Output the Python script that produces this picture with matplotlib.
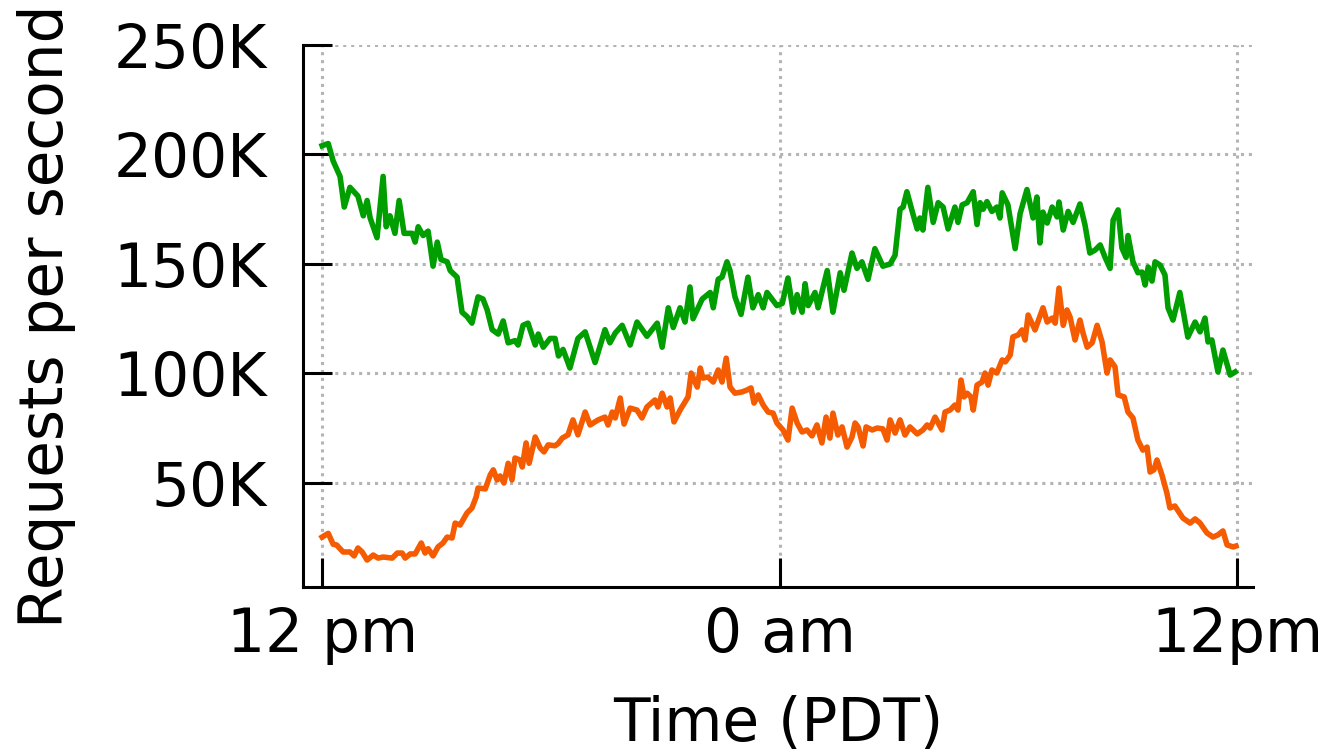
import numpy as np
import matplotlib.pyplot as plt

# Green series (hours since 12 pm, thousands of requests/s)
green_h = [0.00, 0.16, 0.29, 0.47, 0.58, 0.73, 0.94, 1.08, 1.18, 1.26, 1.44, 1.60, 1.68, 1.78, 1.91,
           2.02, 2.15, 2.36, 2.44, 2.52, 2.65, 2.78, 2.91, 3.02, 3.12, 3.28, 3.36, 3.54, 3.67, 3.80,
           3.93, 4.09, 4.22, 4.33, 4.46, 4.62, 4.75, 4.88, 5.06, 5.14, 5.27, 5.40, 5.59, 5.67, 5.80,
           5.98, 6.11, 6.20, 6.32, 6.50, 6.71, 6.90, 7.16, 7.42, 7.55, 7.69, 7.87, 8.08, 8.26, 8.52,
           8.79, 8.92, 9.08, 9.21, 9.39, 9.52, 9.65, 9.73, 9.97, 10.18, 10.26, 10.39, 10.49, 10.62,
           10.70, 10.83, 10.99, 11.17, 11.30, 11.44, 11.57, 11.67, 11.93, 12.07, 12.22, 12.36, 12.46,
           12.59, 12.67, 12.75, 12.93, 13.01, 13.25, 13.40, 13.59, 13.69, 13.90, 14.03, 14.16, 14.32,
           14.50, 14.71, 14.90, 15.03, 15.16, 15.24, 15.34, 15.48, 15.61, 15.68, 15.76, 15.89, 16.03,
           16.16, 16.29, 16.42, 16.60, 16.68, 16.79, 16.92, 17.08, 17.18, 17.26, 17.34, 17.44, 17.57,
           17.70, 17.78, 17.84, 17.99, 18.18, 18.31, 18.49, 18.65, 18.75, 18.83, 18.91, 19.02, 19.15,
           19.28, 19.33, 19.44, 19.57, 19.70, 19.88, 20.01, 20.14, 20.28, 20.41, 20.54, 20.67, 20.75,
           20.88, 20.98, 21.09, 21.14, 21.27, 21.40, 21.51, 21.59, 21.67, 21.77, 21.85, 21.98, 22.11,
           22.19, 22.32, 22.50, 22.71, 22.90, 23.03, 23.16, 23.24, 23.34, 23.50, 23.63, 23.82, 23.95]
green_k = [204, 205, 197, 190, 176, 185, 181, 172, 179, 171, 162, 190, 167, 172, 164,
           179, 164, 164, 160, 167, 163, 165, 149, 160, 152, 151, 147, 144, 128, 126,
           123, 135, 134, 129, 120, 118, 124, 114, 115, 113, 122, 123, 113, 118, 112,
           116, 116, 108, 111, 102.5, 116, 119, 105, 120, 114, 118.5, 122, 113, 123.5, 117,
           123, 112, 130, 121, 130, 123.5, 139.5, 125, 134, 137, 130, 143, 144, 151,
           147, 135, 127, 144, 130, 136, 130, 137, 131, 132, 143.6, 128, 136,
           128, 141, 131, 137, 130, 147, 128, 146, 138, 155, 148, 151, 143,
           157, 149, 150, 154, 175, 176, 183, 174, 166, 171, 165.5, 185, 169,
           178, 176, 166, 176, 169, 177, 178, 183, 168, 178, 175, 178.5, 174,
           176, 171, 182.5, 177, 157, 173, 184, 171, 180.6, 159.6, 173.7, 168.7, 176,
           171.5, 178.3, 165.5, 174, 169, 177.4, 168, 155, 156.4, 158.7, 153, 148, 170,
           174.7, 157.3, 153, 163, 151, 146, 146.3, 140.4, 148.6, 142.2, 151, 149.5, 145,
           130, 124.4, 137, 116.6, 123.5, 119, 125.3, 114.4, 115.3, 100.7, 110.7, 99.3, 100.7]

# Orange series
orange_h = [0.00, 0.16, 0.29, 0.38, 0.55, 0.73, 0.84, 0.94, 1.05, 1.18, 1.34, 1.47, 1.60, 1.84, 1.97,
            2.10, 2.18, 2.31, 2.44, 2.60, 2.70, 2.78, 2.91, 3.04, 3.17, 3.28, 3.41, 3.49, 3.62, 3.80,
            3.93, 4.04, 4.09, 4.28, 4.41, 4.49, 4.59, 4.67, 4.77, 4.88, 4.98, 5.06, 5.19, 5.25, 5.35,
            5.43, 5.59, 5.72, 5.82, 5.93, 6.11, 6.19, 6.30, 6.45, 6.58, 6.71, 6.90, 7.03, 7.24, 7.42,
            7.50, 7.61, 7.69, 7.82, 7.92, 8.08, 8.26, 8.39, 8.52, 8.73, 8.81, 8.92, 9.05, 9.13, 9.23,
            9.39, 9.60, 9.68, 9.84, 9.92, 9.99, 10.12, 10.26, 10.39, 10.49, 10.60, 10.70, 10.83, 11.02,
            11.15, 11.25, 11.33, 11.44, 11.57, 11.70, 11.83, 11.93, 12.09, 12.22, 12.33, 12.46, 12.59,
            12.72, 12.85, 12.98, 13.11, 13.22, 13.32, 13.40, 13.53, 13.64, 13.77, 13.90, 13.98, 14.06,
            14.19, 14.27, 14.43, 14.56, 14.71, 14.82, 14.90, 15.03, 15.16, 15.29, 15.42, 15.61, 15.76,
            15.87, 15.95, 16.08, 16.26, 16.34, 16.47, 16.60, 16.68, 16.76, 16.84, 16.92, 17.02, 17.08,
            17.18, 17.31, 17.39, 17.47, 17.57, 17.70, 17.84, 17.92, 18.05, 18.12, 18.26, 18.36, 18.44,
            18.52, 18.70, 18.91, 19.02, 19.15, 19.23, 19.33, 19.44, 19.54, 19.62, 19.75, 19.88, 19.96,
            20.07, 20.20, 20.33, 20.46, 20.59, 20.67, 20.80, 20.88, 21.04, 21.14, 21.27, 21.40, 21.53,
            21.64, 21.72, 21.82, 21.90, 22.03, 22.16, 22.24, 22.37, 22.58, 22.77, 22.90, 23.03, 23.21,
            23.37, 23.50, 23.63, 23.74, 23.90, 23.97]
orange_k = [25.3, 27, 22, 21.7, 18.5, 18.5, 16.7, 20.3, 18.5, 14.8, 17.1, 15.7, 16.2, 15.7, 18,
            18, 15.7, 17.6, 17.6, 22.6, 18, 20, 16.7, 20.8, 22.6, 25.3, 24.9, 31.7, 30.8, 36.3,
            38.6, 43.6, 47.7, 47.3, 53.7, 56, 51.4, 53.2, 50, 59, 51.4, 61.4, 60.5, 57.3, 68.3,
            59, 71, 66, 64.2, 67.4, 67, 68, 70.5, 72, 78.8, 72, 82.4, 76.5, 78.8, 80.1,
            76.5, 82.4, 79.7, 88.8, 76.9, 84.2, 83.3, 79.7, 84.7, 87.9, 84.7, 91, 84.7, 88.8, 77.9,
            83.3, 89.3, 100.2, 93.8, 102.5, 97.9, 98.4, 96.1, 101.6, 96.1, 107, 93.8, 91, 91.6,
            92.5, 93.4, 86.5, 90.2, 85.6, 82.4, 81.9, 77.4, 74.2, 69.6, 84.2, 77.4, 73.3,
            74.2, 71.5, 76.5, 68.3, 80.1, 70.5, 81.9, 71.9, 75.6, 66.4, 71, 77.4, 75.6,
            66.9, 75.6, 74.2, 75.1, 74.7, 69.6, 78.8, 72.8, 78.8, 71.9, 75.6, 72.4, 74.2,
            76.5, 75.1, 80.1, 74.2, 82.4, 83.3, 85.6, 83.3, 97, 89.3, 91, 89.3, 83.3,
            94.7, 96.1, 100.2, 94.7, 101.6, 100.2, 106.2, 105.3, 108.4, 116.7, 117.6, 119.9, 115.3,
            126.7, 119.9, 130, 123.5, 125.3, 123, 139, 122, 129, 125.8, 115.3, 124.4, 118.5,
            112, 114, 122, 114.4, 100.2, 106.2, 103, 90.2, 89.3, 82.4, 79.7, 69.6, 65,
            66.4, 55, 56, 60.5, 53.7, 45.4, 38.6, 39.5, 34, 31.7, 33.6, 31.7, 27.2,
            25.3, 26.3, 28.1, 21.7, 20.8, 21.2]

x_ticks = [0, 12, 24]
x_labels = ['12 pm', '0 am', '12pm']
y_ticks = [50, 100, 150, 200, 250]
y_labels = ['50K', '100K', '150K', '200K', '250K']

fig = plt.figure(figsize=(13.24, 7.55), dpi=100)
ax = fig.add_axes([0.2289, 0.2225, 0.7175, 0.7179])

ax.plot(green_h, green_k, color='#009e00', linewidth=4, zorder=3)
ax.plot(orange_h, orange_k, color='#f55b00', linewidth=4, zorder=3)

ax.set_xlim(-0.5, 24.42)
ax.set_ylim(2.5, 250)
ax.set_xticks(x_ticks)
ax.set_xticklabels(x_labels)
ax.set_yticks(y_ticks)
ax.set_yticklabels(y_labels)

ax.grid(True, color='#b4b4b4', linestyle=(0, (1, 1.6)), linewidth=2.2)
ax.set_axisbelow(True)

for s in ['top', 'right']:
    ax.spines[s].set_visible(False)
for s in ['left', 'bottom']:
    ax.spines[s].set_linewidth(2.2)

ax.tick_params(axis='both', direction='in', length=21, width=2.2, labelsize=43)
ax.tick_params(axis='y', pad=26)
ax.tick_params(axis='x', pad=14)

ax.set_xlabel('Time (PDT)', fontsize=43, labelpad=21)
ax.set_ylabel('Requests per second', fontsize=43, labelpad=27)

fig.savefig('out.png', dpi=100)
